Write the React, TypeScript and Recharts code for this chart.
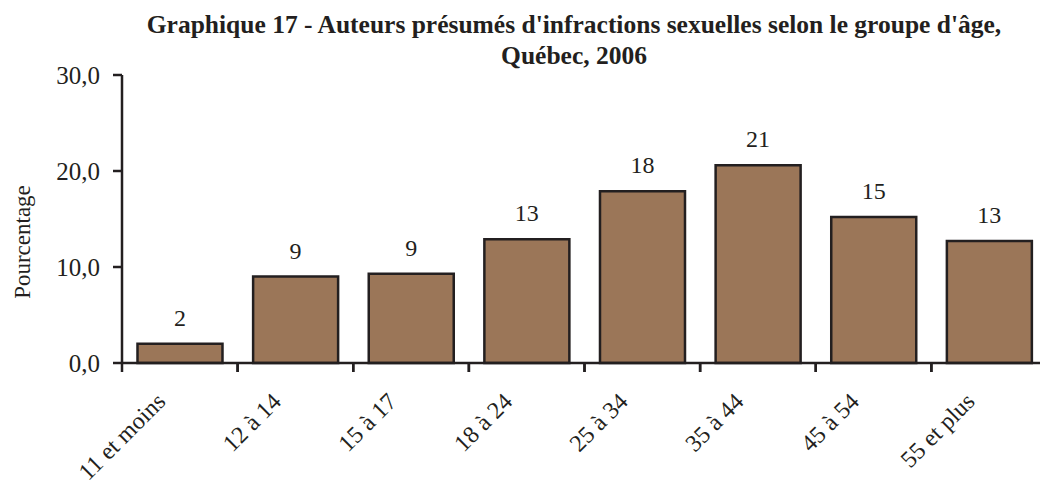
import React from 'react';
import { BarChart, Bar, XAxis, YAxis, LabelList } from 'recharts';

const categories = ['11 et moins', '12 à 14', '15 à 17', '18 à 24', '25 à 34', '35 à 44', '45 à 54', '55 et plus'];
const values = [2.0, 9.0, 9.3, 12.9, 17.9, 20.6, 15.2, 12.7];
const yTicks = [0, 10, 20, 30];
const titleLine1 = "Graphique 17 - Auteurs présumés d'infractions sexuelles selon le groupe d'âge,";
const titleLine2 = 'Québec, 2006';
const yLabel = 'Pourcentage';

const data = categories.map((c, i) => ({ name: c, value: values[i] }));

const FONT = '"Liberation Serif", "Times New Roman", serif';
const AXIS_COLOR = '#231F20';

const XTick = (props: any) => {
  const { x, y, payload } = props;
  const half = payload && payload.offset ? payload.offset : 57.8;
  const tx = x - 13;
  const ty = 403;
  return (
    <g>
      <line x1={x - half} y1={y - 8} x2={x - half} y2={y + 1} stroke={AXIS_COLOR} strokeWidth={2.5} />
      <line x1={x + half} y1={y - 8} x2={x + half} y2={y + 1} stroke={AXIS_COLOR} strokeWidth={2.5} />
      <text
        x={tx}
        y={ty}
        transform={`rotate(-45, ${tx}, ${ty})`}
        textAnchor="end"
        fontFamily={FONT}
        fontSize={24}
        fill={AXIS_COLOR}
      >
        {payload.value}
      </text>
    </g>
  );
};

export default function App() {
  return (
    <div style={{ position: 'absolute', left: 0, top: 0, width: 1040, height: 482, overflow: 'hidden', background: '#fff' }}>
      <BarChart
        width={1047}
        height={482}
        data={data}
        margin={{ top: 75, right: 0, bottom: 0, left: 0 }}
        barCategoryGap="13.4%"
      >
        <text x={574} y={33} textAnchor="middle" fontFamily={FONT} fontWeight="bold" fontSize={25.5} fill={AXIS_COLOR}>
          {titleLine1}
        </text>
        <text x={574} y={64} textAnchor="middle" fontFamily={FONT} fontWeight="bold" fontSize={25.5} fill={AXIS_COLOR}>
          {titleLine2}
        </text>
        <text
          x={30}
          y={242}
          transform="rotate(-90, 30, 242)"
          textAnchor="middle"
          fontFamily={FONT}
          fontSize={23}
          fill={AXIS_COLOR}
        >
          {yLabel}
        </text>
        <XAxis
          dataKey="name"
          height={119}
          axisLine={{ stroke: AXIS_COLOR, strokeWidth: 2.5 }}
          tickLine={false}
          tick={<XTick />}
          interval={0}
        />
        <YAxis
          width={122}
          domain={[0, 30]}
          ticks={yTicks}
          interval={0}
          tickSize={9}
          tickMargin={13}
          axisLine={{ stroke: AXIS_COLOR, strokeWidth: 2.5 }}
          tickLine={{ stroke: AXIS_COLOR, strokeWidth: 2.5 }}
          tick={{ fontFamily: FONT, fontSize: 25, fill: AXIS_COLOR }}
          tickFormatter={(v: number) => v.toFixed(1).replace('.', ',')}
        />
        <Bar dataKey="value" fill="#9B7658" stroke={AXIS_COLOR} strokeWidth={2.5} isAnimationActive={false}>
          <LabelList
            dataKey="value"
            position="top"
            offset={18}
            formatter={(v: any) => Math.round(Number(v)).toString()}
            style={{ fontFamily: FONT, fontSize: 24, fill: AXIS_COLOR }}
          />
        </Bar>
      </BarChart>
    </div>
  );
}
